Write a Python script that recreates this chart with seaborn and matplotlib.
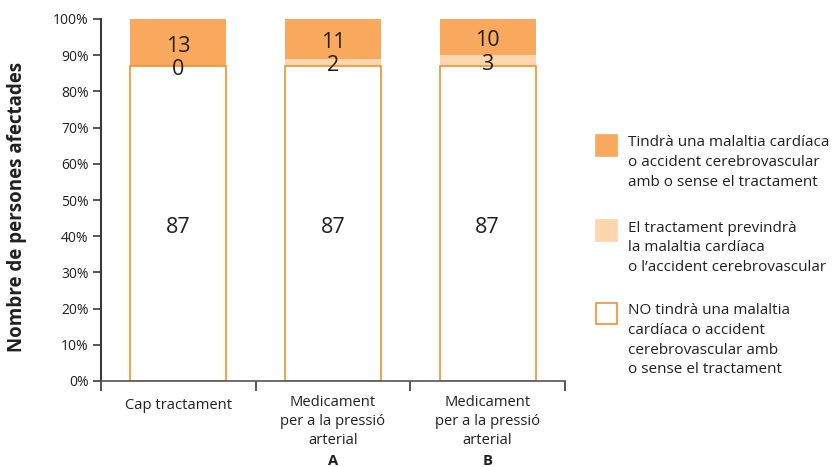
import matplotlib
matplotlib.use("Agg")
import matplotlib.pyplot as plt
import matplotlib.patches as mpatches
import matplotlib.transforms as mtransforms
import pandas as pd
import seaborn as sns

# Data: people out of 100 in each group
categories = ["Cap tractament", "Medicament A", "Medicament B"]
label_lines = ["Cap tractament",
               "Medicament\nper a la pressió\narterial",
               "Medicament\nper a la pressió\narterial"]
label_letters = ["", "A", "B"]
no_event = [87, 87, 87]
prevented = [0, 2, 3]
event = [13, 11, 10]

legend_labels = [
    "Tindrà una malaltia cardíaca\no accident cerebrovascular\namb o sense el tractament",
    "El tractament previndrà\nla malaltia cardíaca\no l\u2019accident cerebrovascular",
    "NO tindrà una malaltia\ncardíaca o accident\ncerebrovascular amb\no sense el tractament",
]

DARK = "#F9A95E"
LIGHT = "#FDD6B0"
EDGE = "#F0922F"
TXT = "#231F20"
AXC = "#3A3A3A"

sns.set_theme(style="white")
plt.rcParams["font.family"] = ["Open Sans", "DejaVu Sans"]

df = pd.DataFrame({
    "cat": categories,
    "no_event": no_event,
    "prevented": prevented,
    "event": event,
})
df["top_prev"] = df["no_event"] + df["prevented"]
df["total"] = df["top_prev"] + df["event"]

W, H = 835, 467
fig = plt.figure(figsize=(W / 100, H / 100), dpi=100)
ax = fig.add_axes([101 / W, 1 - 381 / H, (565 - 101) / W, (381 - 19) / H])

bw = 0.62
# Stacked by overlaying cumulative totals
sns.barplot(data=df, x="cat", y="total", order=categories, color=DARK,
            width=bw, linewidth=0, saturation=1, ax=ax)
sns.barplot(data=df, x="cat", y="top_prev", order=categories, color=LIGHT,
            width=bw, linewidth=0, saturation=1, ax=ax)
sns.barplot(data=df, x="cat", y="no_event", order=categories, color="white",
            width=bw, linewidth=1.2, edgecolor=EDGE, saturation=1, ax=ax)

ax.set_xlim(-0.5, len(categories) - 0.5)
ax.set_ylim(0, 100)
ax.set_xlabel("")
ax.set_ylabel("")

# Segment value labels
for i in range(len(categories)):
    segs = [(0, no_event[i]),
            (no_event[i], prevented[i]),
            (no_event[i] + prevented[i], event[i])]
    for base, h in segs:
        ax.annotate(f"{h}", (i, base + h / 2), xytext=(0, -2.5),
                    textcoords="offset points", ha="center", va="center",
                    fontsize=15.5, color=TXT)

# Axes styling
for s in ["top", "right"]:
    ax.spines[s].set_visible(False)
ax.spines["left"].set_color(AXC)
ax.spines["left"].set_linewidth(1.5)
ax.spines["bottom"].set_color("#555555")
ax.spines["bottom"].set_linewidth(1.2)

ax.set_yticks(range(0, 101, 10))
ax.set_yticklabels([f"{v}%" for v in range(0, 101, 10)], fontsize=10, color=TXT)
ax.set_xticks([i - 0.5 for i in range(len(categories) + 1)])
ax.set_xticklabels([])
ax.tick_params(axis="y", direction="out", length=6, width=1.2, color=AXC, pad=3, left=True)
ax.tick_params(axis="x", direction="out", length=7, width=1.2, color=AXC, bottom=True)

# Category labels
trans = mtransforms.blended_transform_factory(ax.transData, fig.transFigure)
for i, (lines, letter) in enumerate(zip(label_lines, label_letters)):
    top = 398 if not letter else 395
    ax.text(i, 1 - top / H, lines, transform=trans, ha="center", va="top",
            fontsize=10.6, color=TXT, linespacing=1.38)
    if letter:
        ax.text(i, 1 - 454 / H, letter, transform=trans, ha="center", va="top",
                fontsize=10.6, color=TXT, fontweight="bold")

fig.text(17 / W, 1 - 207 / H, "Nombre de persones afectades", rotation=90,
         ha="center", va="center", fontsize=13.5, fontweight="bold", color=TXT)

# Legend
legend_items = [(DARK, DARK, 135, legend_labels[0]),
                (LIGHT, LIGHT, 220, legend_labels[1]),
                ("white", EDGE, 303, legend_labels[2])]
for fc, ec, ytop, text in legend_items:
    fig.patches.append(mpatches.Rectangle((596 / W, 1 - (ytop + 21) / H), 21 / W, 21 / H,
                                          transform=fig.transFigure, facecolor=fc,
                                          edgecolor=ec, linewidth=1.2))
    fig.text(628 / W, 1 - (ytop + 0.5) / H, text, ha="left", va="top",
             fontsize=11, color=TXT, linespacing=1.42)

fig.savefig("out.png", dpi=100)
